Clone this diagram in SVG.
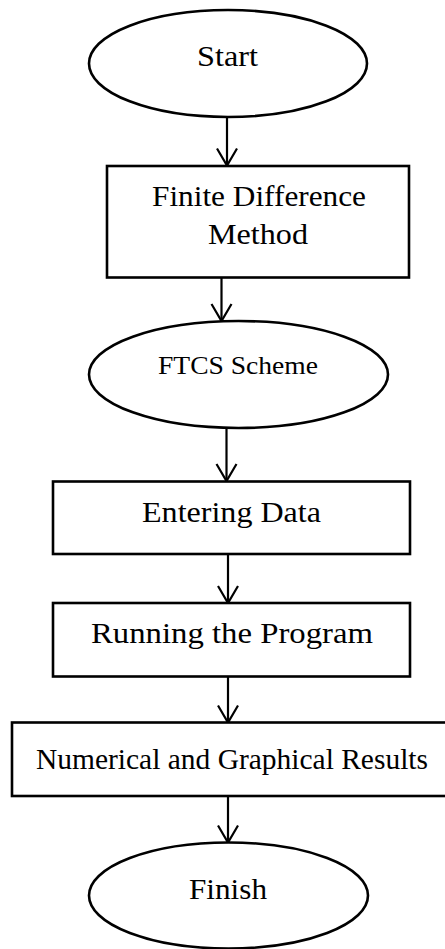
<svg xmlns="http://www.w3.org/2000/svg" width="445" height="949" viewBox="0 0 445 949">
<defs>
<style>
.shape{fill:#fff;stroke:#000;stroke-width:2.6}
.conn{stroke:#000;stroke-width:2.2;fill:none}
.t{font-family:"Liberation Serif","DejaVu Serif",serif;font-size:29px;fill:#000;text-anchor:middle}
.ts{font-size:25px}
</style>
<marker id="arr" markerUnits="userSpaceOnUse" markerWidth="40" markerHeight="40" refX="0" refY="0" orient="auto" overflow="visible">
<path d="M-17,-10 L0,0 L-17,10" fill="none" stroke="#000" stroke-width="2.2"/>
</marker>
</defs>
<rect width="445" height="949" fill="#fff"/>
<g id="connectors">
<line class="conn" x1="227" y1="117" x2="227" y2="165.5" marker-end="url(#arr)"/>
<line class="conn" x1="221.5" y1="278" x2="221.5" y2="321" marker-end="url(#arr)"/>
<line class="conn" x1="226.5" y1="428" x2="226.5" y2="481" marker-end="url(#arr)"/>
<line class="conn" x1="228" y1="554" x2="228" y2="603" marker-end="url(#arr)"/>
<line class="conn" x1="228" y1="677" x2="228" y2="722.5" marker-end="url(#arr)"/>
<line class="conn" x1="228" y1="796" x2="228" y2="842.5" marker-end="url(#arr)"/>
</g>
<g id="start">
<ellipse class="shape" cx="228" cy="63.5" rx="139" ry="53.5"/>
<text class="t" x="227.5" y="66" textLength="61" lengthAdjust="spacingAndGlyphs">Start</text>
</g>
<g id="fdm">
<rect class="shape" x="107" y="166" width="302" height="111.5"/>
<text class="t" x="259" y="206" textLength="214" lengthAdjust="spacingAndGlyphs">Finite Difference</text>
<text class="t" x="258" y="244" textLength="100" lengthAdjust="spacingAndGlyphs">Method</text>
</g>
<g id="ftcs">
<ellipse class="shape" cx="238.5" cy="374.5" rx="149.5" ry="53.5"/>
<text class="t ts" x="238" y="374" textLength="160" lengthAdjust="spacingAndGlyphs">FTCS Scheme</text>
</g>
<g id="entering">
<rect class="shape" x="53" y="481.5" width="357" height="72.5"/>
<text class="t" x="231.5" y="521.5" textLength="179" lengthAdjust="spacingAndGlyphs">Entering Data</text>
</g>
<g id="running">
<rect class="shape" x="53" y="603" width="357" height="73.5"/>
<text class="t" x="232" y="642.5" textLength="282" lengthAdjust="spacingAndGlyphs">Running the Program</text>
</g>
<g id="results">
<rect class="shape" x="12" y="722.5" width="440" height="73.5"/>
<text class="t" x="232" y="769" textLength="392" lengthAdjust="spacingAndGlyphs">Numerical and Graphical Results</text>
</g>
<g id="finish">
<ellipse class="shape" cx="228.5" cy="895.5" rx="139.5" ry="53"/>
<text class="t" x="228" y="899" textLength="78" lengthAdjust="spacingAndGlyphs">Finish</text>
</g>
</svg>
